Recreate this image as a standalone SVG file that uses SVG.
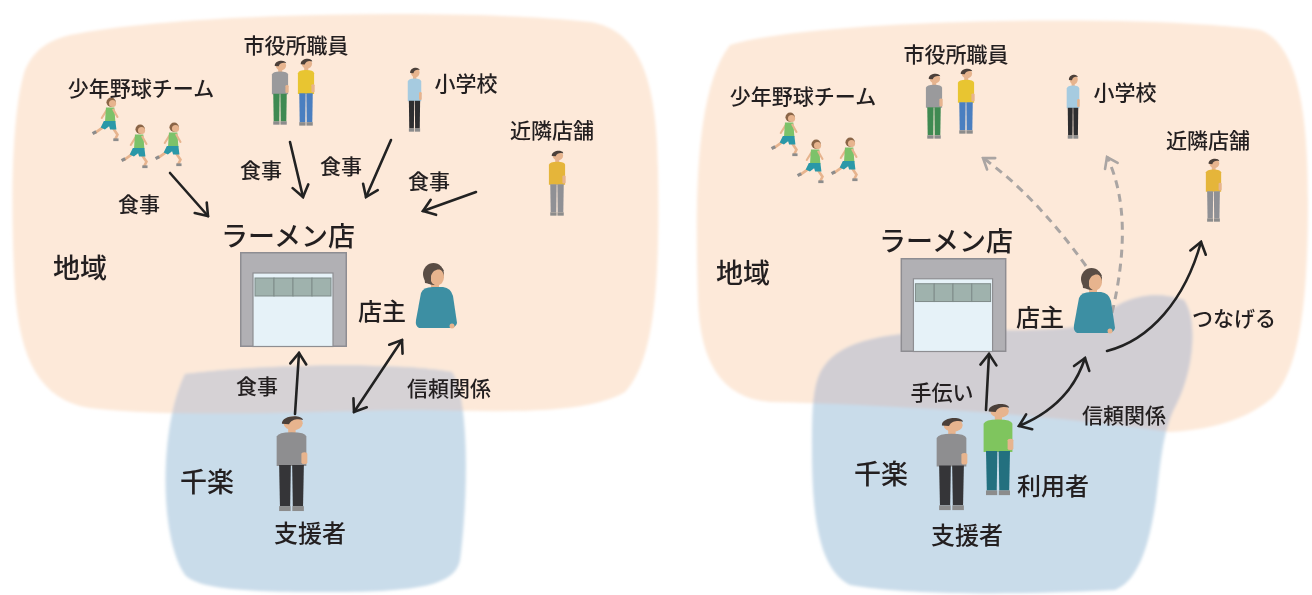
<svg xmlns="http://www.w3.org/2000/svg" xmlns:xlink="http://www.w3.org/1999/xlink" width="1312" height="595" viewBox="0 0 1312 595">
  <style>
    .peach { fill: #fde9d9; }
    .blue { fill: #c9dcea; }
    .overlap { fill: #d6d2d5; }
    .overlap2 { fill: #d1ced3; }
    text { font-family: "Noto Sans CJK JP", "Noto Sans CJK SC", sans-serif; fill: #231f20; text-anchor: middle; dominant-baseline: central; font-weight: 500; }
    .lbl { font-size: 21px; }
    .big { font-size: 27px; }
    .mid { font-size: 24px; }
    .arrow { stroke: #222; stroke-width: 2.6; fill: none; stroke-linecap: round; marker-end: url(#head); }
    .both { marker-start: url(#head); }
    .dash { stroke: #aaa5a3; stroke-width: 3; stroke-dasharray: 8 6; fill: none; marker-end: url(#dhead); }
    .skin { fill: #e7b48e; }
    .hair { fill: #4b403a; }
    .shoe { fill: #8c8c8c; }
    .wall { fill: #b1b0b4; stroke: #8e8d92; stroke-width: 1.5; }
    .door { fill: #e6f2f8; stroke: #8e8e92; stroke-width: 1.2; }
    .pane { fill: #9fb2ad; stroke: #7e8b89; stroke-width: 1; }
  </style>
  <defs>
    <filter id="soft" x="-5%" y="-5%" width="110%" height="110%">
      <feGaussianBlur stdDeviation="1.4"/>
    </filter>
    <marker id="head" viewBox="-14 -10 16 20" refX="0" refY="0" markerWidth="16" markerHeight="20" markerUnits="userSpaceOnUse" orient="auto-start-reverse">
      <path d="M-11,-8 L0,0 L-11,8" fill="none" stroke="#222" stroke-width="2.6" stroke-linecap="round" stroke-linejoin="miter"/>
    </marker>
    <marker id="dhead" viewBox="-14 -10 16 20" refX="0" refY="0" markerWidth="16" markerHeight="20" markerUnits="userSpaceOnUse" orient="auto">
      <path d="M-10,-7 L0,0 L-10,7" fill="none" stroke="#aaa5a3" stroke-width="2.6" stroke-linecap="round"/>
    </marker>

    <!-- blob outlines, reused for clipping the overlap -->
    <path id="peachL" d="M70 35 C180 12 470 8 590 22 C640 30 657 80 658 170 C660 280 655 360 625 392 C580 418 480 410 400 410 C300 412 180 418 90 408 C40 400 20 360 15 290 C10 200 12 110 25 70 C35 48 50 40 70 35 Z"/>
    <path id="blueL" d="M185 374 C260 364 400 362 452 372 C470 400 468 500 460 560 C455 585 420 592 330 592 C250 592 200 590 185 575 C160 540 158 430 185 374 Z"/>
    <path id="peachR" d="M730 45 C820 18 1150 14 1260 30 C1300 45 1308 120 1308 200 C1308 300 1300 370 1272 398 C1240 425 1200 430 1170 432 C1050 415 900 405 770 402 C720 398 700 360 698 300 C695 200 695 90 730 45 Z"/>
    <path id="blueR" d="M818 378 C830 345 870 335 930 332 C1000 328 1060 334 1098 322 C1115 300 1150 288 1184 300 C1198 320 1194 370 1176 405 C1162 430 1160 470 1156 500 C1150 540 1140 580 1115 590 C1000 596 900 594 850 585 C820 570 812 520 812 450 C812 420 812 395 818 378 Z"/>
    <clipPath id="clipPeachL"><use href="#peachL"/></clipPath>
    <clipPath id="clipPeachR"><use href="#peachR"/></clipPath>

    <!-- standing figure; shirt and trouser colours come from custom properties -->
    <symbol id="person" viewBox="-10 0 20 100" preserveAspectRatio="none" overflow="visible">
      <rect class="skin" x="-2" y="13" width="4.5" height="6"/>
      <ellipse class="skin" cx="1" cy="8.5" rx="5.8" ry="7"/>
      <path class="hair" d="M-5.8 9 C-6.5 0.5 6 -1.5 7 5 C4 3.6 0 4 -1.5 9.5 Z"/>
      <path style="fill: var(--top)" d="M-9 22 Q-8 17.5 0 17.5 Q8.5 17.5 9 22 L9 52 L-9 52 Z"/>
      <rect class="skin" x="6" y="38" width="3.6" height="12" rx="1.6"/>
      <path style="fill: var(--bot)" d="M-7.5 51 L-0.4 51 L-0.8 93 L-7 93 Z"/>
      <path style="fill: var(--bot)" d="M0.4 51 L7.5 51 L7 93 L0.8 93 Z"/>
      <rect class="shoe" x="-7.5" y="93" width="7" height="5"/>
      <rect class="shoe" x="0.5" y="93" width="7" height="5"/>
    </symbol>

    <!-- running child -->
    <symbol id="runner" viewBox="0 0 28 42" overflow="visible">
      <line x1="14" y1="12" x2="9" y2="20" stroke="#e7b48e" stroke-width="2" stroke-linecap="round"/>
      <line x1="10" y1="29" x2="3" y2="34" stroke="#e7b48e" stroke-width="2.5" stroke-linecap="round"/>
      <rect class="shoe" x="0" y="32.5" width="4" height="3" transform="rotate(-30 2 34)"/>
      <polyline points="20,30 24,36 22,40" fill="none" stroke="#e7b48e" stroke-width="2.5" stroke-linecap="round"/>
      <rect class="shoe" x="20" y="39.5" width="5" height="2.6"/>
      <path fill="#7cc26a" d="M13 10 L21 10 L22 24 L12 25 Z"/>
      <line x1="20" y1="12" x2="24" y2="19" stroke="#e7b48e" stroke-width="2" stroke-linecap="round"/>
      <path fill="#2a98a8" d="M11 23 L22 23 L23 31 L17 31 L16 28 L12 31 L8 29 Z"/>
      <circle cx="18" cy="5" r="4.5" fill="#8a6547"/>
      <circle class="skin" cx="19.3" cy="6.2" r="3.4"/>
    </symbol>

    <!-- shop owner, half figure -->
    <symbol id="owner" viewBox="0 0 42 66" overflow="visible">
      <rect class="skin" x="16" y="20" width="8" height="8"/>
      <ellipse cx="18.5" cy="12" rx="10.5" ry="11" fill="#5a4d45"/>
      <ellipse class="skin" cx="22" cy="15" rx="7" ry="8.5"/>
      <path fill="#5a4d45" d="M9 12 C9 2 26 0 29 9 C24 6 18 7 16 14 L16 22 L10 21 Z"/>
      <path fill="#3d8fa3" d="M6 31 Q8 25 18 25 L28 25 Q36 26 38 34 L42 61 Q41 66 34 66 L4 66 Q0 64 1 58 Z"/>
      <circle class="skin" cx="37" cy="64" r="2.5"/>
    </symbol>

    <!-- ramen shop front -->
    <symbol id="shop" viewBox="0 0 107 95" overflow="visible">
      <rect class="wall" x="0.75" y="0.75" width="105.5" height="93.5"/>
      <rect class="door" x="13" y="21" width="80" height="73.5"/>
      <rect class="pane" x="15" y="26" width="19" height="18"/>
      <rect class="pane" x="34" y="26" width="19" height="18"/>
      <rect class="pane" x="53" y="26" width="19" height="18"/>
      <rect class="pane" x="72" y="26" width="19" height="18"/>
    </symbol>
  </defs>

  <rect width="1312" height="595" fill="#ffffff"/>

  <!-- areas: community (peach) and Senraku (blue) -->
  <g id="areas" filter="url(#soft)">
    <use href="#peachL" class="peach"/>
    <use href="#blueL" class="blue"/>
    <use href="#blueL" class="overlap" clip-path="url(#clipPeachL)"/>
    <use href="#peachR" class="peach"/>
    <use href="#blueR" class="blue"/>
    <use href="#blueR" class="overlap2" clip-path="url(#clipPeachR)"/>
  </g>

  <!-- connectors -->
  <g id="connectors">
    <line class="arrow" x1="170" y1="173" x2="208" y2="216"/>
    <line class="arrow" x1="290" y1="142" x2="303" y2="197"/>
    <line class="arrow" x1="391" y1="140" x2="366" y2="197"/>
    <line class="arrow" x1="476" y1="192" x2="423" y2="211"/>
    <line class="arrow" x1="295" y1="414" x2="299" y2="353"/>
    <line class="arrow both" x1="354" y1="412" x2="402" y2="340"/>

    <line class="arrow" x1="986" y1="410" x2="989" y2="354"/>
    <path class="arrow both" d="M1019 426 Q1070 405 1085 358"/>
    <path class="arrow" d="M1107 351 C1150 340 1185 300 1201 242"/>
    <path class="dash" d="M1086 266 Q1035 195 983 158"/>
    <path class="dash" d="M1112 313 Q1135 215 1107 157"/>
  </g>

  <!-- left scene -->
  <g id="left-area-labels">
    <text class="big" x="80" y="266">地域</text>
    <text class="big" x="207" y="480">千楽</text>
  </g>
  <g id="left-team">
    <use href="#runner" x="92" y="97" width="30" height="44"/>
    <use href="#runner" x="121" y="124" width="30" height="44"/>
    <use href="#runner" x="155" y="122" width="30" height="44"/>
    <text class="lbl" x="141" y="87">少年野球チーム</text>
  </g>
  <g id="left-cityhall">
    <use href="#person" x="271" y="60" width="18" height="66" style="--top:#9a9a9c; --bot:#3f8a52"/>
    <use href="#person" x="297" y="58" width="18" height="69" style="--top:#e8c531; --bot:#4a7fc0"/>
    <text class="lbl" x="296" y="44">市役所職員</text>
  </g>
  <g id="left-school">
    <use href="#person" x="407" y="67" width="15" height="66" style="--top:#a6cbe0; --bot:#2e2e30"/>
    <text class="lbl" x="466" y="82">小学校</text>
  </g>
  <g id="left-neighbor">
    <use href="#person" x="548" y="150" width="18" height="67" style="--top:#e5b53a; --bot:#8f9095"/>
    <text class="lbl" x="552" y="129">近隣店舗</text>
  </g>
  <g id="left-meal-labels">
    <text class="lbl" x="139" y="203">食事</text>
    <text class="lbl" x="261" y="169">食事</text>
    <text class="lbl" x="341" y="165">食事</text>
    <text class="lbl" x="429" y="180">食事</text>
    <text class="lbl" x="257" y="385">食事</text>
    <text class="lbl" x="449" y="387">信頼関係</text>
  </g>
  <g id="left-shop">
    <use href="#shop" x="240" y="252" width="107" height="95"/>
    <text class="big" x="288" y="234">ラーメン店</text>
  </g>
  <g id="left-owner">
    <use href="#owner" x="415" y="262" width="42" height="66"/>
    <text class="mid" x="382" y="309">店主</text>
  </g>
  <g id="left-supporter">
    <use href="#person" x="275" y="415" width="33" height="98" style="--top:#8e8e90; --bot:#353538"/>
    <text class="mid" x="310" y="531">支援者</text>
  </g>

  <!-- right scene -->
  <g id="right-area-labels">
    <text class="big" x="743" y="271">地域</text>
    <text class="big" x="881" y="472">千楽</text>
  </g>
  <g id="right-team">
    <use href="#runner" x="771" y="112" width="30" height="44"/>
    <use href="#runner" x="797" y="139" width="30" height="44"/>
    <use href="#runner" x="831" y="137" width="30" height="44"/>
    <text class="lbl" x="803" y="95">少年野球チーム</text>
  </g>
  <g id="right-cityhall">
    <use href="#person" x="925" y="73" width="18" height="67" style="--top:#9a9a9c; --bot:#3f8a52"/>
    <use href="#person" x="957" y="68" width="18" height="67" style="--top:#e8c531; --bot:#4a7fc0"/>
    <text class="lbl" x="956" y="53">市役所職員</text>
  </g>
  <g id="right-school">
    <use href="#person" x="1066" y="74" width="14" height="66" style="--top:#a6cbe0; --bot:#2e2e30"/>
    <text class="lbl" x="1125" y="91">小学校</text>
  </g>
  <g id="right-neighbor">
    <use href="#person" x="1205" y="158" width="17" height="65" style="--top:#e5b53a; --bot:#8f9095"/>
    <text class="lbl" x="1208" y="139">近隣店舗</text>
  </g>
  <g id="right-shop">
    <use href="#shop" x="900" y="258" width="107" height="94"/>
    <text class="big" x="946" y="239">ラーメン店</text>
  </g>
  <g id="right-owner">
    <use href="#owner" x="1073" y="267" width="42" height="66"/>
    <text class="mid" x="1040" y="315">店主</text>
  </g>
  <g id="right-link-labels">
    <text class="lbl" x="1234" y="317">つなげる</text>
    <text class="lbl" x="942" y="391">手伝い</text>
    <text class="lbl" x="1124" y="414">信頼関係</text>
  </g>
  <g id="right-supporter">
    <use href="#person" x="935" y="417" width="33" height="95" style="--top:#8e8e90; --bot:#353538"/>
    <text class="mid" x="967" y="533">支援者</text>
  </g>
  <g id="right-user">
    <use href="#person" x="982" y="403" width="32" height="94" style="--top:#7fc55e; --bot:#23707f"/>
    <text class="mid" x="1053" y="484">利用者</text>
  </g>
</svg>
